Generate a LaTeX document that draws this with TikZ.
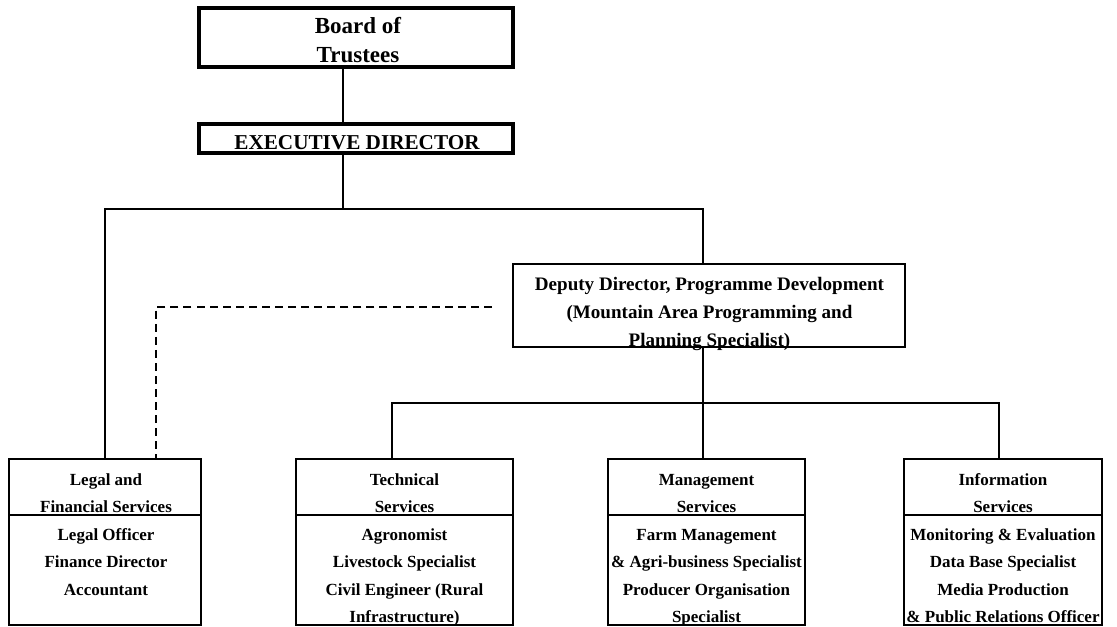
\documentclass[tikz,border=0pt]{standalone}
\usepackage{fontspec}
\setmainfont{Liberation Serif}
\begin{document}
\begin{tikzpicture}[x=0.75pt,y=-0.75pt,
  topbox/.style={draw,line width=2.5pt,inner sep=0pt,minimum width=235.5pt},
  midbox/.style={draw,line width=1.5pt,inner sep=0pt},
  unitbox/.style={draw,line width=1.5pt,inner sep=0pt,minimum height=124.5pt},
  thinconn/.style={line width=1pt},
  conn/.style={line width=1.5pt},
  dashconn/.style={line width=1.5pt,dash pattern=on 6pt off 3.8pt},
  divider/.style={line width=1.5pt},
  bt/.style={anchor=base,inner sep=0pt,font=\bfseries\fontsize{12.75}{15}\selectfont},
  dt/.style={anchor=base,inner sep=0pt,font=\bfseries\fontsize{14.3}{17}\selectfont},
  et/.style={anchor=base,inner sep=0pt,font=\bfseries\fontsize{15.9}{18}\selectfont},
  ht/.style={anchor=base,inner sep=0pt,font=\bfseries\fontsize{17.25}{20}\selectfont}
]
\useasboundingbox (0,0) rectangle (1117,627);

% boxes
\node[topbox,minimum height=44.25pt] (board) at (356,37.5) {};
\node[topbox,minimum height=21.75pt] (exec) at (356,138.5) {};
\node[midbox,minimum width=294pt,minimum height=62.25pt] (deputy) at (709,305.5) {};
\node[unitbox,minimum width=144pt] (legal) at (105,542) {};
\node[unitbox,minimum width=162.75pt] (tech) at (404.5,542) {};
\node[unitbox,minimum width=147.75pt] (mgmt) at (706.5,542) {};
\node[unitbox,minimum width=148.5pt] (info) at (1003,542) {};

% dividers
\foreach \b in {legal,tech,mgmt,info}
  \draw[divider] (\b.west |- 0,515) -- (\b.east |- 0,515);

% texts
\node[ht] (board-t1) at (358,34) {Board of};
\node[ht] (board-t2) at (358,63) {Trustees};
\node[et] (exec-t) at (357,150) {EXECUTIVE DIRECTOR};
\foreach \t [count=\i] in {{Deputy Director, Programme Development},{(Mountain Area Programming and},{Planning Specialist)}}
  \node[dt] (dep-t\i) at (709.5,{263.5+27.5*\i}) {\t};
\foreach \t [count=\i] in {{Legal and},{Financial Services},{Legal Officer},{Finance Director},{Accountant}}
  \node[bt] (legal-t\i) at (106,{457.5+27.5*\i}) {\t};
\foreach \t [count=\i] in {{Technical},{Services},{Agronomist},{Livestock Specialist},{Civil Engineer (Rural},{Infrastructure)}}
  \node[bt] (tech-t\i) at (404.5,{457.5+27.5*\i}) {\t};
\foreach \t [count=\i] in {{Management},{Services},{Farm Management},{\& Agri-business Specialist},{Producer Organisation},{Specialist}}
  \node[bt] (mgmt-t\i) at (706.5,{457.5+27.5*\i}) {\t};
\foreach \t [count=\i] in {{Information},{Services},{Monitoring \& Evaluation},{Data Base Specialist},{Media Production},{\& Public Relations Officer}}
  \node[bt] (info-t\i) at (1003,{457.5+27.5*\i}) {\t};

% junction coordinates
\coordinate (cj) at (343,209);
\coordinate (lj) at (105,209);
\coordinate (dj) at (703,209);
\coordinate (tj) at (392,403);
\coordinate (mj) at (703,403);
\coordinate (ij) at (999,403);
\coordinate (dend) at (492,307);
\coordinate (dl) at (156,307);

% connectors
\draw[thinconn] (board.south -| cj) -- (exec.north -| cj);
\draw[thinconn] (exec.south -| cj) -- (cj);
\draw[conn] (legal.north -| lj) -- (lj) -- (dj) -- (deputy.north -| dj);
\draw[conn] (deputy.south -| mj) -- (mgmt.north -| mj);
\draw[conn] (tech.north -| tj) -- (tj) -- (ij) -- (info.north -| ij);
\draw[dashconn] (dend) -- (dl) -- (legal.north -| dl);
\end{tikzpicture}
\end{document}
